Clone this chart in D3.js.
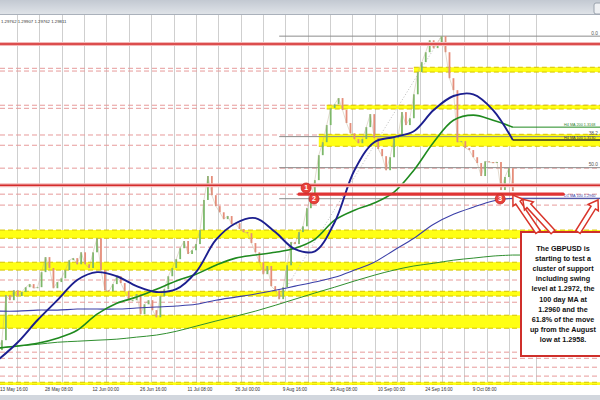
<!DOCTYPE html>
<html><head><meta charset="utf-8">
<script src="https://cdn.jsdelivr.net/npm/d3@7/dist/d3.min.js"></script>
<style>body{margin:0;background:#fff;}svg{display:block;font-family:"Liberation Sans",Arial,sans-serif;}</style>
</head><body>
<svg id="c" width="600" height="400"></svg>
<script>
// ---- data (H4 GBPUSD, slot index = bar group) ----
const closes = [1.2516,
 1.2545,1.2677,1.2662,1.2691,1.2674,1.2686,1.2700,1.2709,1.2697,1.2700,
 1.2744,1.2788,1.2756,1.2697,1.2715,1.2726,1.2750,1.2779,1.2785,1.2767,
 1.2802,1.2767,1.2756,1.2802,1.2843,1.2750,1.2691,1.2688,1.2709,1.2732,
 1.2712,1.2688,1.2662,1.2662,1.2680,1.2621,1.2650,1.2662,1.2633,1.2612,
 1.2674,1.2694,1.2732,1.2756,1.2782,1.2814,1.2835,1.2797,1.2808,1.2826,
 1.2867,1.2955,1.3025,1.2969,1.2937,1.2919,1.2899,1.2908,1.2884,1.2887,
 1.2870,1.2861,1.2858,1.2829,1.2802,1.2773,1.2738,1.2762,1.2703,1.2691,
 1.2665,1.2700,1.2764,1.2832,1.2826,1.2861,1.2878,1.2931,1.2960,1.3013,
 1.3086,1.3124,1.3174,1.3224,1.3235,1.3253,1.3218,1.3180,1.3150,1.3133,
 1.3121,1.3133,1.3168,1.3206,1.3136,1.3104,1.3083,1.3042,1.3080,1.3136,
 1.3139,1.3212,1.3174,1.3194,1.3264,1.3329,1.3358,1.3387,1.3422,1.3399,
 1.3416,1.3434,1.3387,1.3311,1.3276,1.3124,1.3127,1.3107,1.3101,1.3080,
 1.3063,1.3025,1.3068,1.3066,1.3063,1.3066,1.2984,1.3022,1.3048,1.2981];
const maSlots = [0,5,10,15,20,25,30,35,40,45,50,55,60,65,70,75,80,85,90,95,100,105,110,115,120,125,130];
const h4ma100 = [1.2487,1.2539,1.2604,1.2662,1.2721,1.2744,1.2732,1.2703,1.2686,1.2694,1.2744,1.2838,1.2887,1.2902,1.2861,1.2811,1.2805,1.2890,1.3042,1.3124,1.3139,1.3156,1.3218,1.3259,1.3264,1.3218,1.3130];
const h4ma200 = [1.2522,1.2528,1.2536,1.2551,1.2574,1.2621,1.2653,1.2671,1.2694,1.2718,1.2738,1.2764,1.2785,1.2794,1.2802,1.2814,1.2840,1.2896,1.2925,1.2946,1.2978,1.3042,1.3124,1.3188,1.3203,1.3188,1.3168];
const d1ma100 = [1.2630,1.2630,1.2633,1.2633,1.2636,1.2636,1.2636,1.2639,1.2642,1.2645,1.2650,1.2662,1.2671,1.2680,1.2691,1.2703,1.2715,1.2729,1.2750,1.2773,1.2808,1.2843,1.2884,1.2913,1.2934,1.2952,1.2960];
const d1ma200 = [1.2522,1.2528,1.2533,1.2539,1.2542,1.2545,1.2548,1.2554,1.2560,1.2571,1.2586,1.2601,1.2615,1.2630,1.2647,1.2665,1.2683,1.2700,1.2718,1.2735,1.2750,1.2762,1.2770,1.2779,1.2785,1.2791,1.2794];
const tickLabels = ["13 May 16:00","28 May 08:00","12 Jun 00:00","26 Jun 16:00","11 Jul 08:00","26 Jul 00:00","9 Aug 16:00","26 Aug 08:00","10 Sep 00:00","24 Sep 16:00","9 Oct 08:00"];
const tickSlots = [0,12,24,36,48,60,72,84,96,108,120];
const dashedLevels = [1.3340,1.3332,1.3232,1.3223,1.3145,1.3115,1.3048,1.2972,1.2940,1.2817,1.2721,1.2656,1.2510,1.2492,1.2466,1.2440];
const bandLow   = [1.3329,1.3221,1.3112,1.2843,1.2750,1.2674,1.2580,1.2414];
const bandHigh  = [1.3343,1.3232,1.3147,1.2867,1.2773,1.2688,1.2618,1.2422];
const bandStart = [105,83,81,0,0,0,0,0];
const redLevels = [1.3411,1.2998];
const swingLevel = 1.2972, swingStart = 76, swingEnd = 142.7;
const fibHigh = 1.3434, fibLow = 1.2665, fibLowSlot = 71, fibHighSlot = 112;
const fibPcts = [0, 38.2, 50, 61.8];
const fibShown = ["0.0","38.2","50.0",""];
const markerSlots = [77.8, 79.8, 126.8];
const markerPrices = [1.2990, 1.2958, 1.2958];
const header = "1.29762 1.29907 1.29762 1.29811";
const noteLines = ["The GBPUSD is","starting to test a","cluster of support","including swing","level at 1.2972, the","100 day MA at","1.2960 and the","61.8% of the move","up from the August","low at 1.2958."];

// ---- scales ----
const svg = d3.select("#c");
const x = d3.scaleLinear().domain([0,152]).range([-2,600]);
const y = d3.scaleLinear().domain([1.2414,1.3490]).range([385,17]);

// header
const defs = svg.append("defs");
const g1 = defs.append("linearGradient").attr("id","hdr").attr("x1",0).attr("x2",0).attr("y1",0).attr("y2",1);
g1.append("stop").attr("offset","0%").attr("stop-color","#c3c9d2");
g1.append("stop").attr("offset","100%").attr("stop-color","#dfe3e8");
defs.append("clipPath").attr("id","plot").append("rect").attr("x",0).attr("y",15).attr("width",600).attr("height",370);
svg.append("rect").attr("x",0).attr("y",0).attr("width",600).attr("height",14).attr("fill","url(#hdr)");
svg.append("line").attr("x1",0).attr("x2",600).attr("y1",14.5).attr("y2",14.5).attr("stroke","#aab1bb");
svg.append("rect").attr("x",594).attr("y",3).attr("width",10).attr("height",11).attr("rx",2).attr("fill","#eef0f3").attr("stroke","#9aa2ad");
svg.append("rect").attr("x",0).attr("y",395).attr("width",600).attr("height",5).attr("fill","#d2d7de");

const P = svg.append("g").attr("clip-path","url(#plot)");

// vertical grid
const gridSlots = d3.range(4.8, 130, 5.646).concat([135.9]);
P.selectAll("line.grid").data(gridSlots).join("line").attr("class","grid")
 .attr("x1",d=>Math.round(x(d))+0.5).attr("x2",d=>Math.round(x(d))+0.5).attr("y1",15).attr("y2",385)
 .attr("stroke","#cfcfcf").attr("stroke-width",1);

// dashed red levels
P.selectAll("line.dash").data(dashedLevels).join("line").attr("class","dash")
 .attr("x1",0).attr("x2",600).attr("y1",d=>y(d)).attr("y2",d=>y(d))
 .attr("stroke","#e79a9a").attr("stroke-width",1).attr("stroke-dasharray","5,3");

// yellow bands
const bands = bandLow.map((lo,i)=>({lo,hi:bandHigh[i],s:bandStart[i]}));
P.selectAll("rect.band").data(bands).join("rect").attr("class","band")
 .attr("x",d=>Math.max(0,x(d.s))).attr("width",d=>600-Math.max(0,x(d.s)))
 .attr("y",d=>y(d.hi)).attr("height",d=>y(d.lo)-y(d.hi)).attr("fill","#ffff14");
bands.forEach(d=>{
  [d.lo,d.hi].forEach(v=>P.append("line").attr("x1",Math.max(0,x(d.s))).attr("x2",600).attr("y1",y(v)).attr("y2",y(v))
   .attr("stroke","#d6c400").attr("stroke-width",1).attr("stroke-dasharray","5,3"));
});

// fibonacci lines
fibPcts.forEach((p,i)=>{
  const v = fibHigh - p/100*(fibHigh-fibLow);
  P.append("line").attr("x1",x(fibLowSlot)).attr("x2",600).attr("y1",y(v)).attr("y2",y(v)).attr("stroke","#8c8c8c").attr("stroke-width",1);
  if (fibShown[i]) P.append("text").attr("x",598).attr("y",y(v)-1.5).attr("text-anchor","end").attr("font-size",4.8).attr("fill","#555").text(fibShown[i]);
});
P.append("line").attr("x1",x(fibLowSlot)).attr("y1",y(fibLow)).attr("x2",x(fibHighSlot)).attr("y2",y(fibHigh))
 .attr("stroke","#bdbdbd").attr("stroke-width",1).attr("stroke-dasharray","1,2");

// candles
const idx = d3.range(1, closes.length);
P.selectAll("rect.cdl").data(idx).join("rect").attr("class","cdl")
 .attr("x",i=>x(i)-0.9).attr("width",1.8)
 .attr("y",i=>Math.min(y(closes[i]),y(closes[i-1])))
 .attr("height",i=>Math.max(1,Math.abs(y(closes[i])-y(closes[i-1]))))
 .attr("fill",i=>closes[i]>=closes[i-1]?"#7cb86a":"#e58d7a");
P.append("path").attr("d",d3.line().x((d,i)=>x(i)).y(d=>y(d))(closes))
 .attr("fill","none").attr("stroke","#b9a98c").attr("stroke-width",0.6).attr("opacity",0.7);

// moving averages
const mkLine = arr => d3.line().x((d,i)=>x(maSlots[i])).y(d=>y(d)).curve(d3.curveCatmullRom.alpha(0.5))(arr);
const last = maSlots[maSlots.length-1];
function ext(arr,color,w){
  const v = arr[arr.length-1];
  P.append("line").attr("x1",x(last)).attr("x2",600).attr("y1",y(v)).attr("y2",y(v)).attr("stroke",color).attr("stroke-width",w);
}
P.append("path").attr("d",mkLine(d1ma200)).attr("fill","none").attr("stroke","#2f8f2f").attr("stroke-width",1);
ext(d1ma200,"#2f8f2f",1);
P.append("path").attr("d",mkLine(d1ma100)).attr("fill","none").attr("stroke","#3b3fa8").attr("stroke-width",1.1);
ext(d1ma100,"#3b3fa8",1.1);
P.append("path").attr("d",mkLine(h4ma200)).attr("fill","none").attr("stroke","#1f8a1f").attr("stroke-width",1.6);
ext(h4ma200,"#1f8a1f",1);
P.append("path").attr("d",mkLine(h4ma100)).attr("fill","none").attr("stroke","#1c1f8f").attr("stroke-width",1.9);
ext(h4ma100,"#333322",1.5);
const maLabel=(arr,txt,color)=>P.append("text").attr("x",564).attr("y",y(arr[arr.length-1])-1.5)
  .attr("font-size",3.8).attr("fill",color)
  .text(txt+" "+arr[arr.length-1].toFixed(4));
maLabel(h4ma200,"H4 MA 200","#2f7f2f");
maLabel(h4ma100,"H4 MA 100","#333");
maLabel(d1ma100,"D1 MA 100","#3b3fa8");

// red solid levels
redLevels.forEach(v=>{
  P.append("line").attr("x1",0).attr("x2",600).attr("y1",y(v)).attr("y2",y(v)).attr("stroke","#f3b8b8").attr("stroke-width",4);
  P.append("line").attr("x1",0).attr("x2",600).attr("y1",y(v)).attr("y2",y(v)).attr("stroke","#d42b2b").attr("stroke-width",1.6);
});
P.append("line").attr("x1",x(swingStart)).attr("x2",x(swingEnd)).attr("y1",y(swingLevel)).attr("y2",y(swingLevel))
 .attr("stroke","#e03434").attr("stroke-width",3.2).attr("stroke-linecap","round");

// markers
markerSlots.forEach((s,i)=>{
  P.append("circle").attr("cx",x(s)).attr("cy",y(markerPrices[i])).attr("r",5).attr("fill","#e8413a").attr("stroke","#c62a25").attr("stroke-width",0.8);
  P.append("text").attr("x",x(s)).attr("y",y(markerPrices[i])+2.4).attr("text-anchor","middle").attr("font-size",7).attr("font-weight","bold").attr("fill","#fff").text(i+1);
});

// header text
svg.append("text").attr("x",1).attr("y",23).attr("font-size",4.3).attr("fill","#333").text(header);

// x-axis labels
svg.selectAll("text.tick").data(tickSlots).join("text").attr("class","tick")
 .attr("x",d=>Math.max(0,x(d)-0.5)).attr("y",391).attr("font-size",4.6).attr("fill","#333").text((d,i)=>tickLabels[i]);

// annotation box
const A = svg.append("g");
A.append("rect").attr("x",521).attr("y",232).attr("width",95).attr("height",124).attr("fill","#fff").attr("stroke","#cf2f2a").attr("stroke-width",2);
A.selectAll("text.note").data(noteLines).join("text").attr("class","note")
 .attr("x",563).attr("y",(d,i)=>251+i*10.1).attr("text-anchor","middle").attr("font-size",7.2).attr("font-weight","bold").attr("fill","#111").text(d=>d);
function arrowPts(x0,y0,x1,y1,sw,hw,hl){
  const dx=x1-x0, dy=y1-y0, L=Math.hypot(dx,dy), ux=dx/L, uy=dy/L, px=-uy, py=ux;
  const bx=x1-ux*hl, by=y1-uy*hl;
  return [[x0+px*sw,y0+py*sw],[bx+px*sw,by+py*sw],[bx+px*hw,by+py*hw],[x1,y1],[bx-px*hw,by-py*hw],[bx-px*sw,by-py*sw],[x0-px*sw,y0-py*sw]];
}
const arrows = [[538,232,x(130),y(swingLevel)+1],[553,232,x(132.5),y(1.2960)+1],[578,232,x(151.5),y(1.2958)+1]];
arrows.forEach(a=>{
  A.append("polygon").attr("points",arrowPts(...a,2.6,6,9).map(p=>p.join(",")).join(" "))
   .attr("fill","#fff").attr("stroke","#d9352b").attr("stroke-width",1.5).attr("stroke-linejoin","miter");
});
</script>
</body></html>
